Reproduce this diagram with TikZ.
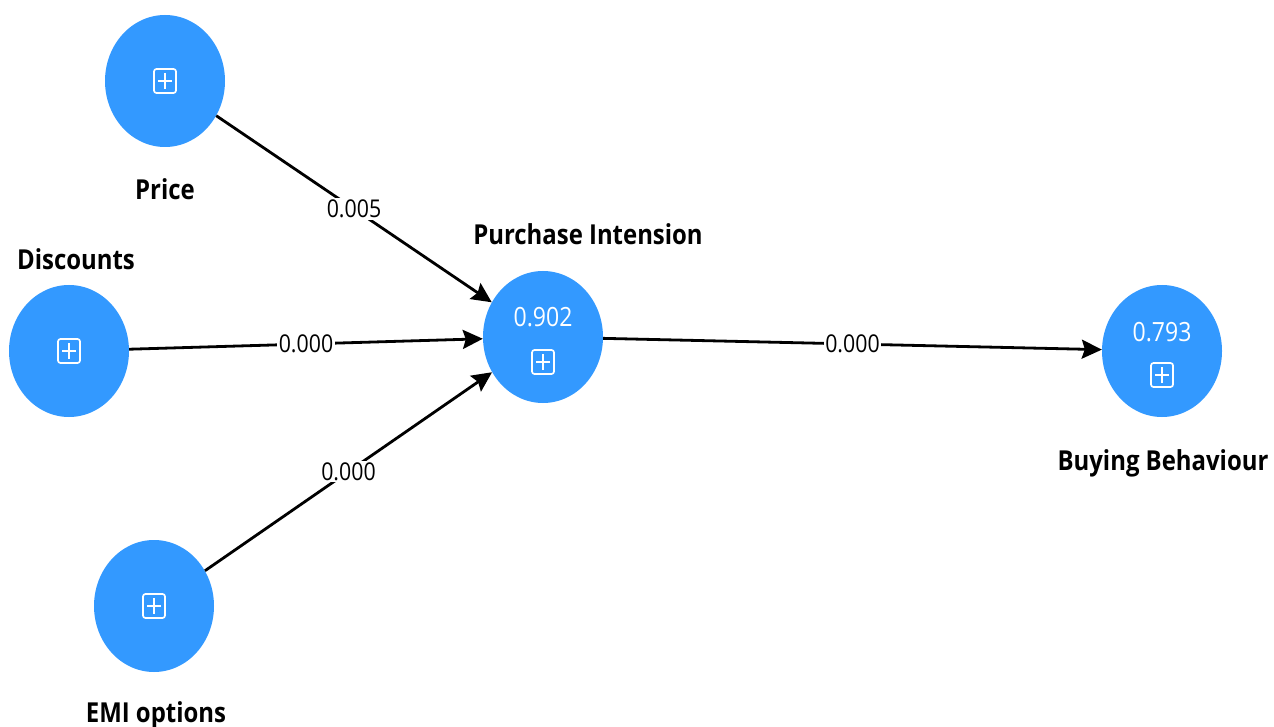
\documentclass[tikz,border=0pt]{standalone}
\usepackage{fontspec}
\setmainfont{Open Sans}[FakeStretch=0.87]
\usetikzlibrary{shapes.geometric,arrows.meta}
\definecolor{nodeblue}{HTML}{3399FF}
\tikzset{
  construct/.style={ellipse, fill=nodeblue, draw=none, minimum width=120pt, minimum height=132pt, inner sep=0pt},
  title/.style={font=\fontsize{27.5}{31}\selectfont\bfseries, anchor=base, inner sep=0pt},
  value/.style={font=\fontsize{26.5}{29}\selectfont, text=white, inner sep=0pt},
  coef/.style={font=\fontsize{24.5}{27}\selectfont, fill=white, inner sep=1.5pt, midway},
  path arrow/.style={draw=black, line width=2.8pt, -{Stealth[length=20pt,width=19pt,inset=3pt]}},
  plusbox/.pic={
    \draw[white, line width=1.7pt, rounded corners=2.5pt] (-11,-12) rectangle (11,12);
    \draw[white, line width=1.7pt] (-7,0) -- (7,0) (0,-8) -- (0,8);
  }
}
\begin{document}
\begin{tikzpicture}[x=1pt,y=-1pt]
\useasboundingbox[fill=white] (0,0) rectangle (1274,727);

\node[construct] (price) at (165,81) {};
\node[construct] (disc) at (69,351) {};
\node[construct] (emi) at (154,606) {};
\node[construct] (pi) at (543,337) {};
\node[construct] (bb) at (1162,351) {};

\pic at (165,81) {plusbox};
\pic at (69,351) {plusbox};
\pic at (154,606) {plusbox};
\pic at (543,362) {plusbox};
\pic at (1162,375) {plusbox};

\node[value] (piv) at (543,317) {0.902};
\node[value] (bbv) at (1162,332) {0.793};

\node[title] (pricel) at (165,200) {Price};
\node[title] (discl) at (76,270) {Discounts};
\node[title] (pil) at (588,245) {Purchase Intension};
\node[title] (bbl) at (1163,470) {Buying Behaviour};
\node[title] (emil) at (156,722) {EMI options};

\draw[path arrow] (price) -- node[coef] (c1) {0.005} (pi);
\draw[path arrow] (disc) -- node[coef] (c2) {0.000} (pi);
\draw[path arrow] (emi) -- node[coef] (c3) {0.000} (pi);
\draw[path arrow] (pi) -- node[coef] (c4) {0.000} (bb);
\end{tikzpicture}
\end{document}
